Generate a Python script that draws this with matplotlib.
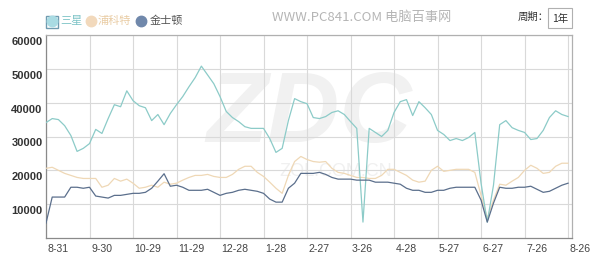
import numpy as np
import matplotlib
matplotlib.use('Agg')
import matplotlib.pyplot as plt
from matplotlib.lines import Line2D
from matplotlib.transforms import ScaledTranslation

plt.rcParams['font.family'] = ['Liberation Sans', 'Noto Sans CJK SC', 'DejaVu Sans']

# trading-day index, every 3rd day
days = np.arange(0, 255, 3)
tick_days = np.arange(0, 253, 21)
tick_labels = ['8-31', '9-30', '10-29', '11-29', '12-28', '1-28', '2-27',
               '3-26', '4-28', '5-27', '6-27', '7-26', '8-26']
series_names = ['三星', '浦科特', '金士顿']

samsung = [34100, 35300, 35000, 33200, 30300, 25600, 26500, 27900, 32100, 30900,
           35300, 39400, 38800, 43500, 40600, 39100, 38500, 34700, 36500, 33500,
           36800, 39400, 41800, 44700, 47400, 50800, 48200, 45600, 41800, 37400,
           35600, 34400, 32900, 32400, 32400, 32400, 29400, 25300, 26500, 34700,
           41200, 40300, 39700, 35600, 35300, 35900, 37100, 37600, 36500, 34400,
           32400, 4700, 32400, 31200, 30000, 31800, 37100, 40300, 40900, 36200,
           40300, 38500, 36500, 31800, 30600, 28800, 29400, 28800, 29700, 31200,
           16200, 4700, 15600, 33500, 34700, 32600, 31800, 31200, 29100, 29400,
           31800, 35600, 37600, 36500, 35900]
plextor = [20600, 20900, 20000, 19100, 18500, 17900, 17600, 17600, 17600, 15000,
           15600, 17600, 16800, 17400, 16200, 14700, 15000, 15600, 15000, 16500,
           15900, 16200, 17100, 17900, 18500, 18500, 18800, 18200, 17900, 17900,
           18800, 20300, 21200, 21200, 19400, 18200, 16500, 14700, 13200, 18500,
           22600, 24100, 23200, 22600, 22400, 22600, 20600, 19400, 19100, 18500,
           17900, 17900, 17600, 17600, 18500, 20300, 20300, 19400, 18500, 17100,
           16500, 16800, 20000, 21200, 19700, 20000, 20300, 20300, 20300, 19400,
           12600, 5900, 11200, 15900, 15600, 16800, 17900, 20000, 21500, 20600,
           19100, 19400, 21200, 22100, 22100]
kingston = [4400, 12100, 12100, 12100, 15000, 15000, 14700, 15000, 12400, 12100,
            11800, 12600, 12600, 12900, 13200, 13200, 13500, 14700, 16800, 19000,
            15300, 15600, 15000, 14100, 14100, 14100, 14400, 13500, 12600, 13200,
            13500, 14100, 14400, 14100, 13800, 13200, 11500, 10600, 10600, 14700,
            16200, 19100, 19100, 19100, 19400, 18800, 17900, 17400, 17400, 17400,
            17100, 17100, 17100, 16500, 16500, 16500, 16200, 15900, 14700, 14100,
            14100, 13500, 13500, 14100, 14100, 14700, 15000, 15000, 15000, 15000,
            11200, 4700, 10300, 15000, 14700, 14700, 15000, 15000, 15300, 14400,
            13500, 13800, 14700, 15600, 16200]

line_colors = ['#8ccbc8', '#efd8b6', '#5b6f8c']
marker_colors = ['#a9dbe3', '#f2d9bc', '#7088ab']
text_colors = ['#7cc3c6', '#e9cca4', '#555555']

fig = plt.figure(figsize=(6, 2.6), dpi=100)
ax = fig.add_axes([46 / 600, 1 - 238 / 260, 526 / 600, 203 / 260])

# faint logo watermark behind the lines
ax.text(0.5, 0.6, 'ZDC', transform=ax.transAxes, ha='center', va='center',
        fontsize=72, fontweight='bold', style='italic', color='#f1f1f1', zorder=0)
ax.text(0.55, 0.33, 'ZOL.COM.CN', transform=ax.transAxes, ha='center', va='center',
        fontsize=13, color='#f0f0f0', zorder=0)

for vals, c in zip([plextor, samsung, kingston], [line_colors[1], line_colors[0], line_colors[2]]):
    ax.plot(days, vals, color=c, lw=0.9, zorder=3)

ax.set_xlim(0, 253.9)
ax.set_ylim(0, 60000)
ax.set_xticks(tick_days)
ax.set_xticklabels(tick_labels)
ax.set_yticks(np.arange(10000, 60001, 10000))
ax.set_yticklabels([str(v) for v in range(10000, 60001, 10000)])
ax.grid(True, color='#d9d9d9', lw=0.8, zorder=1)
ax.set_axisbelow(True)
ax.tick_params(length=0)
ax.tick_params(axis='y', pad=2.5, labelsize=8, labelcolor='#333333')
ax.tick_params(axis='x', pad=4, labelsize=7.6, labelcolor='#444444')
for lab in ax.get_yticklabels():
    lab.set_fontweight('bold')
    lab.set_transform(lab.get_transform() + ScaledTranslation(0, -6 / 100, fig.dpi_scale_trans))
for lab in ax.get_xticklabels():
    lab.set_horizontalalignment('left')
    lab.set_transform(lab.get_transform() + ScaledTranslation(1.5 / 100, 0, fig.dpi_scale_trans))
for s in ax.spines.values():
    s.set_color('#b0b0b0')
    s.set_linewidth(0.9)
ax.spines['left'].set_color('#8a8a8a')
ax.spines['bottom'].set_color('#8a8a8a')

# legend row at top-left
cjk = ['Noto Sans CJK SC', 'DejaVu Sans']
ly = 1 - 21 / 260
fig.patches.append(plt.Rectangle((46 / 600, 1 - 28 / 260), 12 / 600, 12 / 260,
                                 transform=fig.transFigure, fc='none', ec='#6f9bb0', lw=1.0))
marker_x = [52, 91, 141]
text_x = [60, 98, 150]
for mx, tx, name, mc, tc in zip(marker_x, text_x, series_names, marker_colors, text_colors):
    fig.add_artist(Line2D([mx / 600], [ly], marker='o', markersize=7.5,
                          color=mc, transform=fig.transFigure))
    fig.text(tx / 600, ly, name, ha='left', va='center', fontsize=8,
             color=tc, family=cjk)

fig.text(362 / 600, 1 - 17 / 260, 'WWW.PC841.COM 电脑百事网', ha='center', va='center',
         fontsize=9.5, color='#b5b5b5', family=cjk)
fig.text(518 / 600, 1 - 17 / 260, '周期：', ha='left', va='center', fontsize=7.5,
         color='#333333', family=cjk)
fig.patches.append(plt.Rectangle((548 / 600, 1 - 28 / 260), 24 / 600, 20 / 260,
                                 transform=fig.transFigure, fc='white', ec='#b0b0b0', lw=0.8))
fig.text(560 / 600, 1 - 18.5 / 260, '1年', ha='center', va='center', fontsize=7.5,
         color='#333333', family=cjk)

fig.savefig('out.png', dpi=100)
